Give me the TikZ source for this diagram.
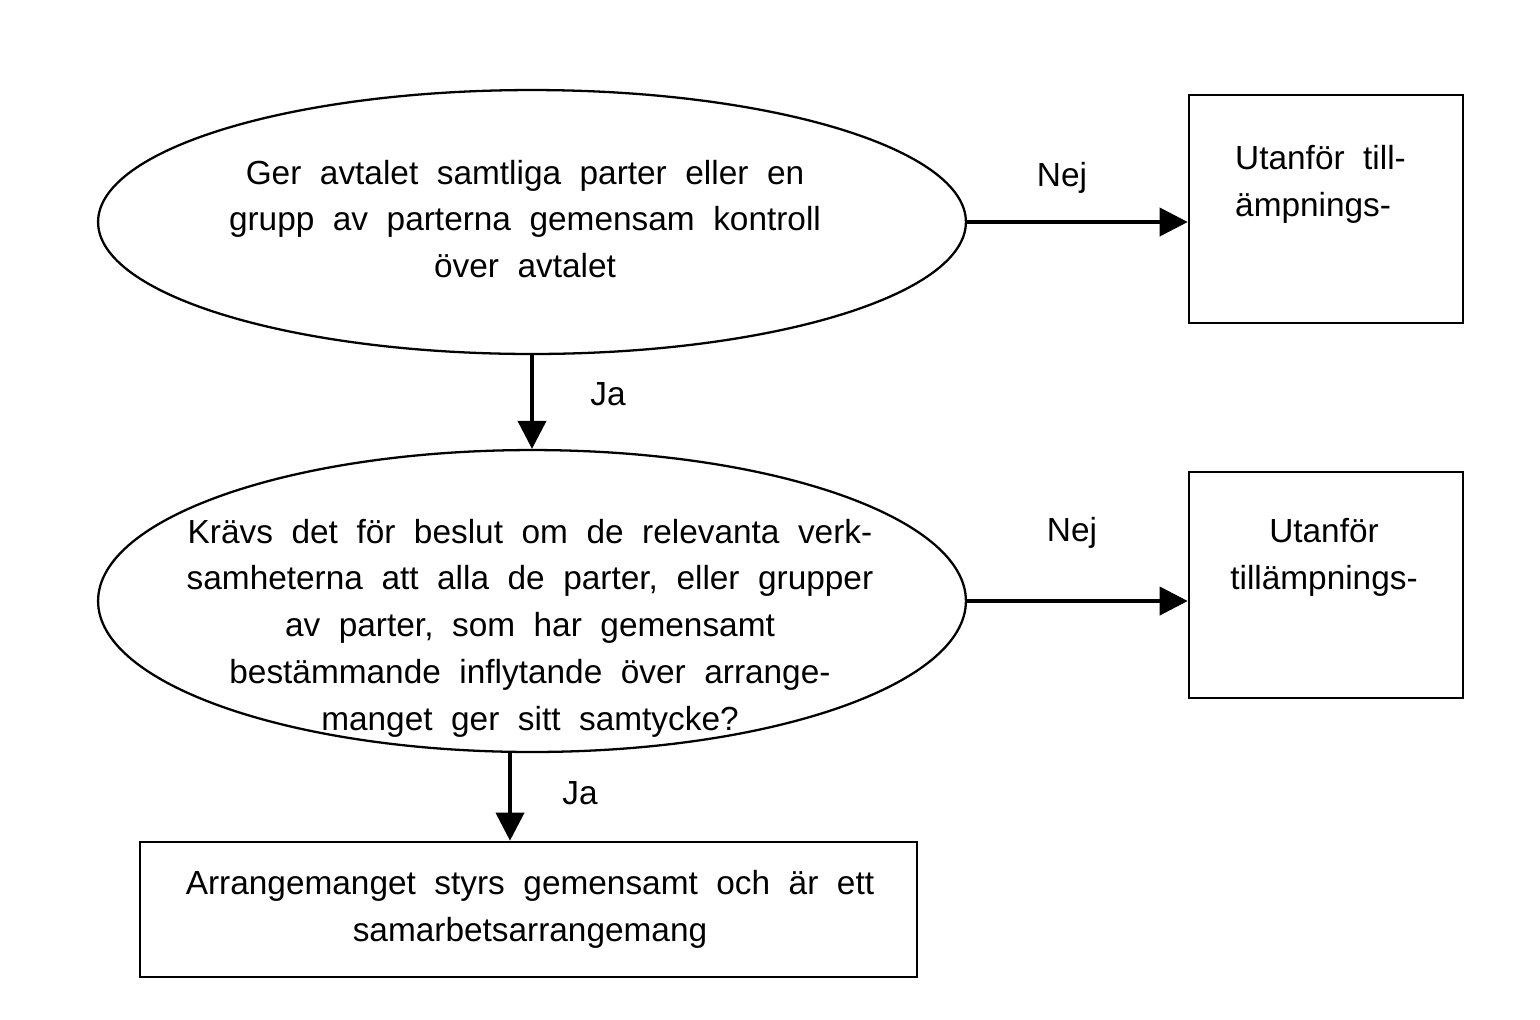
\documentclass[tikz,border=0pt]{standalone}
\usepackage{fontspec}
\setmainfont{Liberation Sans}[WordSpace=2]
\usetikzlibrary{shapes.geometric,arrows.meta,calc}

\begin{document}
\begin{tikzpicture}[x=0.02cm,y=-0.02cm,
  qell/.style={draw,ellipse,line width=1.3pt,inner sep=0pt,minimum width=17.36cm},
  outbox/.style={draw,line width=1.5pt,inner sep=0pt},
  txt/.style={font=\fontsize{19}{26.6}\selectfont,align=center},
  flow/.style={line width=2.2pt,-{Triangle[length=16pt,width=16pt]}}]
\useasboundingbox (0,0) rectangle (1540,1019);
% the two questions (ellipses), text set separately below
\node[qell,minimum height=5.28cm] (q1) at (532,222) {};
\node[qell,minimum height=6.04cm] (q2) at (532,601) {};
% outcome boxes
\node[outbox,minimum width=5.48cm,minimum height=4.56cm] (b1) at (1326,209) {};
\node[outbox,minimum width=5.48cm,minimum height=4.52cm] (b2) at (1326,585) {};
\node[outbox,minimum width=15.54cm,minimum height=2.7cm] (b3) at (528.5,909.5) {};
% texts
\node[txt] (t1) at (525,219) {Ger avtalet samtliga parter eller en\\grupp av parterna gemensam kontroll\\över avtalet};
\node[txt] (t2) at (530,628) {Krävs det för beslut om de relevanta verk-\\samheterna att alla de parter, eller grupper\\av parter, som har gemensamt\\bestämmande inflytande över arrange-\\manget ger sitt samtycke?};
\node[txt,align=left,anchor=west] (t3) at (1229,184.5) {Utanför till-\\ämpnings-};
\node[txt] (t4) at (1324,557) {Utanför\\tillämpnings-};
\node[txt] (t5) at (530,909.5) {Arrangemanget styrs gemensamt och är ett\\samarbetsarrangemang};
% connectors
\coordinate (q2foot) at ([xshift=-0.44cm]q2.south);
\draw[flow] (q1.east) -- (q1.east -| b1.west);
\draw[flow] (q1.south) -- (q2.north);
\draw[flow] (q2.east) -- (q2.east -| b2.west);
\draw[flow] (q2foot) -- (q2foot |- b3.north);
\node[txt] (nej1) at (1062,178) {Nej};
\node[txt] (ja1) at (608,394) {Ja};
\node[txt] (nej2) at (1072,533) {Nej};
\node[txt] (ja2) at (580,793) {Ja};
\end{tikzpicture}
\end{document}
